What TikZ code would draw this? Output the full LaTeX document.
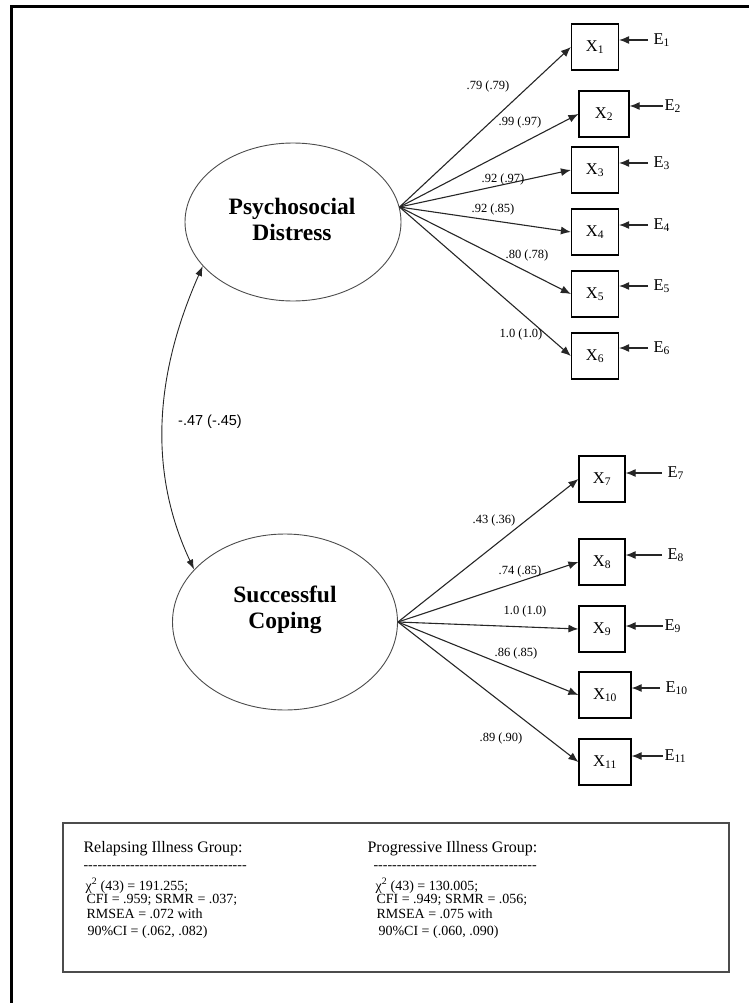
\documentclass[tikz,border=0pt]{standalone}
\usepackage{fontspec}
\setmainfont{Liberation Serif}
\newfontfamily\covfont{Liberation Sans}
\usetikzlibrary{arrows.meta,shapes.geometric}
\newcommand\hyphenrow{\foreach\k in {1,...,35}{\mbox{-}}}

\begin{document}
\begin{tikzpicture}[x=1pt,y=-1pt,line width=1.1pt,
  lat/.style={ellipse,draw=black!70,line width=.9pt,inner sep=0pt},
  lattxt/.style={inner sep=0pt,align=center,font=\fontsize{23.5}{26}\selectfont\bfseries},
  obs/.style={draw,line width=1.2pt,minimum height=46pt,inner sep=0pt,
    font=\fontsize{16.5}{18}\selectfont},
  err/.style={anchor=west,inner xsep=5pt,inner ysep=0pt,font=\fontsize{16.5}{18}\selectfont},
  ld/.style={inner sep=0pt,font=\fontsize{12.5}{14}\selectfont},
  ldarr/.style={draw=black!85,-{Latex[length=10pt,width=8pt]}},
  stat/.style={anchor=base west,inner sep=0pt,font=\fontsize{14}{16}\selectfont},
  head/.style={stat,font=\fontsize{16}{18}\selectfont}]
\useasboundingbox (0,0) rectangle (749,1003);
\draw[line width=3pt] (11,1003) -- (11,7) -- (749,7);

% latent factors
\node[lat,minimum width=216pt,minimum height=158pt] (PD) at (293,222) {};
\node[lattxt] (PDt) at (292,219) {Psychosocial\\Distress};
\node[lat,minimum width=225pt,minimum height=176pt] (SC) at (285,622) {};
\node[lattxt] (SCt) at (285,610) {Successful\\Coping};

% indicators
\node[obs,minimum width=47pt] (X1) at (595,47) {X\textsubscript{1}};
\node[obs,minimum width=50pt] (X2) at (604,114) {X\textsubscript{2}};
\node[obs,minimum width=47pt] (X3) at (595,170) {X\textsubscript{3}};
\node[obs,minimum width=47pt] (X4) at (595,232) {X\textsubscript{4}};
\node[obs,minimum width=47pt] (X5) at (595,294) {X\textsubscript{5}};
\node[obs,minimum width=47pt] (X6) at (595,356) {X\textsubscript{6}};
\node[obs,minimum width=46pt] (X7) at (602,479) {X\textsubscript{7}};
\node[obs,minimum width=46pt] (X8) at (602,562) {X\textsubscript{8}};
\node[obs,minimum width=46pt] (X9) at (602,629) {X\textsubscript{9}};
\node[obs,minimum width=52pt] (X10) at (605,695) {X\textsubscript{10}};
\node[obs,minimum width=52pt] (X11) at (605,762) {X\textsubscript{11}};

% errors
\node[err] (E1) at (648,40) {E\textsubscript{1}};
\node[err,inner xsep=1pt,yshift=2pt] (E2) at (663,108) {E\textsubscript{2}};
\node[err] (E3) at (648,163) {E\textsubscript{3}};
\node[err] (E4) at (648,225) {E\textsubscript{4}};
\node[err] (E5) at (648,286) {E\textsubscript{5}};
\node[err] (E6) at (648,348) {E\textsubscript{6}};
\node[err] (E7) at (662,473) {E\textsubscript{7}};
\node[err,yshift=2pt] (E8) at (662,557) {E\textsubscript{8}};
\node[err,inner xsep=1pt,yshift=-3pt] (E9) at (663,623) {E\textsubscript{9}};
\node[err] (E10) at (660,688) {E\textsubscript{10}};
\node[err,inner xsep=1pt] (E11) at (663,756) {E\textsubscript{11}};

\foreach \i in {1,...,6} \draw[ldarr] (PD.8) -- (X\i.west);
\foreach \i in {7,...,11} \draw[ldarr] (SC.east) -- (X\i.west);
\foreach \i in {1,...,11} \draw[ldarr] (E\i.west) -- (E\i.west -| X\i.east);

% loadings
\node[ld] (l1) at (488,86) {.79 (.79)};
\node[ld] (l2) at (520,122) {.99 (.97)};
\node[ld] (l3) at (503,179) {.92 (.97)};
\node[ld] (l4) at (493,209) {.92 (.85)};
\node[ld] (l5) at (527,255) {.80 (.78)};
\node[ld] (l6) at (521,334) {1.0 (1.0)};
\node[ld] (l7) at (494,520) {.43 (.36)};
\node[ld] (l8) at (520,571) {.74 (.85)};
\node[ld] (l9) at (525,611) {1.0 (1.0)};
\node[ld] (l10) at (516,653) {.86 (.85)};
\node[ld] (l11) at (501,738) {.89 (.90)};

% factor covariance
\draw[draw=black!85,line width=.9pt,{Latex[length=10pt,width=7pt]}-{Latex[length=10pt,width=7pt]}]
  (PD.206) .. controls (150,385) and (152,480) .. (SC.150);
\node[inner sep=0pt,font=\covfont\fontsize{14.5}{16}\selectfont] (cov) at (210,422) {-.47 (-.45)};

% fit indices
\draw[draw=black!70,line width=1.5pt] (63,823) rectangle (729,972);
\node[head] (g1) at (83,852) {Relapsing Illness Group:};
\node[stat] (d1) at (83,869) {\hyphenrow};
\node[stat] (c1) at (85,890) {χ\textsuperscript{2} (43) = 191.255;};
\node[stat] (f1) at (86,903) {CFI = .959; SRMR = .037;};
\node[stat] (r1) at (86,918) {RMSEA = .072 with};
\node[stat] (ci1) at (87,935) {90\%CI = (.062, .082)};
\node[head] (g2) at (367,852) {Progressive Illness Group:};
\node[stat] (d2) at (373,869) {\hyphenrow};
\node[stat] (c2) at (375,890) {χ\textsuperscript{2} (43) = 130.005;};
\node[stat] (f2) at (376,903) {CFI = .949; SRMR = .056;};
\node[stat] (r2) at (376,918) {RMSEA = .075 with};
\node[stat] (ci2) at (378,935) {90\%CI = (.060, .090)};
\end{tikzpicture}
\end{document}
